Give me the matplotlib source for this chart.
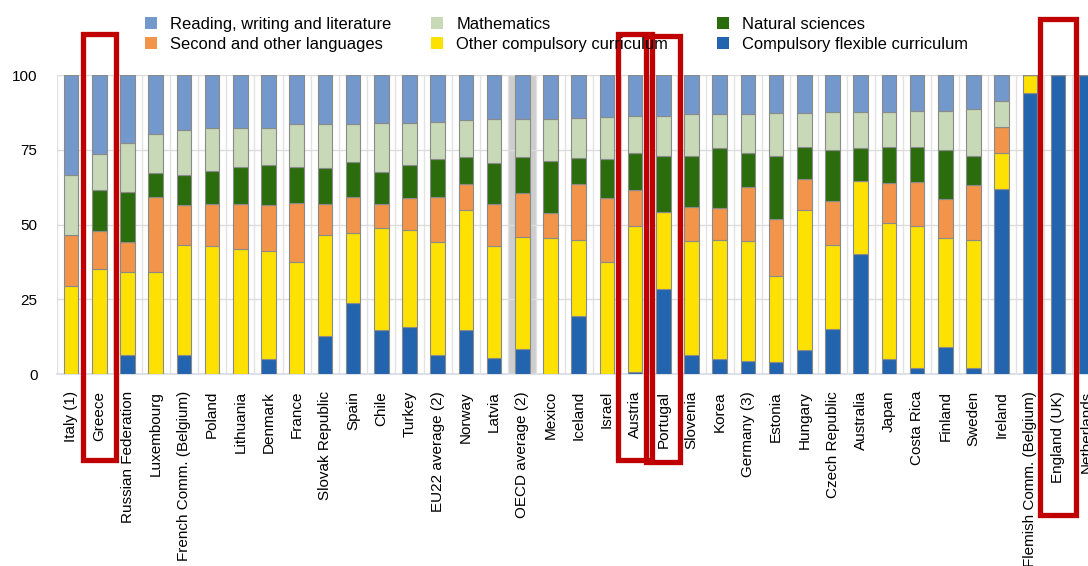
import numpy as np
import matplotlib.pyplot as plt
from matplotlib.patches import Rectangle, Patch
from matplotlib.transforms import blended_transform_factory

plt.rcParams['font.family'] = ['Liberation Sans', 'DejaVu Sans']

countries = [
    'Italy (1)', 'Greece', 'Russian Federation', 'Luxembourg',
    'French Comm. (Belgium)', 'Poland', 'Lithuania', 'Denmark', 'France',
    'Slovak Republic', 'Spain', 'Chile', 'Turkey', 'EU22 average (2)',
    'Norway', 'Latvia', 'OECD average (2)', 'Mexico', 'Iceland', 'Israel',
    'Austria', 'Portugal', 'Slovenia', 'Korea', 'Germany (3)', 'Estonia',
    'Hungary', 'Czech Republic', 'Australia', 'Japan', 'Costa Rica',
    'Finland', 'Sweden', 'Ireland', 'Flemish Comm. (Belgium)',
    'England (UK)', 'Netherlands',
]

# Share of instruction time (%) by subject, stacked bottom to top
flexible = [0, 0, 6.5, 0, 6.5, 0, 0, 5.1, 0, 12.8, 23.7, 14.8, 15.7, 6.5,
            14.8, 5.6, 8.4, 0, 19.6, 0, 0.8, 28.4, 6.5, 5.0, 4.5, 4.0, 8.1,
            15.0, 40.1, 5.1, 2.0, 9.2, 2.2, 61.9, 93.9, 100, 100]
other_compulsory = [29.5, 35.2, 27.8, 34.3, 36.7, 42.7, 41.8, 36.2, 37.6,
                    33.7, 23.4, 34.0, 32.5, 37.6, 40.1, 37.1, 37.6, 45.4,
                    25.3, 37.6, 48.9, 25.9, 38.0, 39.9, 40.0, 28.9, 46.8,
                    28.2, 24.5, 45.6, 47.7, 36.2, 42.7, 11.9, 6.1, 0, 0]
languages = [17.0, 12.7, 10.0, 25.1, 13.3, 14.2, 15.1, 15.2, 19.5, 10.3,
             12.3, 8.0, 10.6, 15.3, 8.6, 14.2, 14.7, 8.6, 18.7, 21.2, 11.9,
             0, 11.5, 10.6, 18.2, 19.1, 10.4, 14.8, 0, 13.1, 14.4, 13.2,
             18.4, 8.7, 0, 0, 0]
natural_sciences = [0, 13.7, 16.7, 7.7, 10.1, 11.1, 12.5, 13.4, 12.3, 12.2,
                    11.4, 10.7, 11.1, 12.4, 9.2, 13.6, 12.0, 17.4, 8.6, 13.0,
                    12.5, 18.8, 17.1, 20.0, 11.4, 21.1, 10.5, 16.9, 10.9,
                    12.0, 11.7, 16.3, 9.8, 0, 0, 0, 0]
mathematics = [20.1, 12.0, 16.4, 13.2, 15.0, 14.2, 13.0, 12.5, 14.1, 14.5,
               12.7, 16.4, 14.0, 12.6, 12.3, 14.8, 12.6, 13.8, 13.4, 14.1,
               12.2, 13.3, 13.8, 11.4, 12.8, 14.1, 11.4, 12.6, 12.0, 11.7,
               12.3, 13.2, 15.5, 8.9, 0, 0, 0]
reading = [33.4, 26.4, 22.6, 19.7, 18.4, 17.8, 17.6, 17.6, 16.5, 16.5,
           16.5, 16.1, 16.1, 15.6, 15.0, 14.7, 14.7, 14.8, 14.4, 14.1, 13.7,
           13.6, 13.1, 13.1, 13.1, 12.8, 12.8, 12.5, 12.5, 12.5, 11.9, 11.9,
           11.4, 8.6, 0, 0, 0]

series = [
    ('Compulsory flexible curriculum', flexible, '#2264AE'),
    ('Other compulsory curriculum', other_compulsory, '#FDE102'),
    ('Second and other languages', languages, '#F2954B'),
    ('Natural sciences', natural_sciences, '#2B6D0C'),
    ('Mathematics', mathematics, '#C7D9B7'),
    ('Reading, writing and literature', reading, '#7398CB'),
]

highlighted = ['Greece', 'Austria', 'Portugal', 'England (UK)']

W, H = 1088, 566
fig = plt.figure(figsize=(W / 100, H / 100), dpi=100)
ax = fig.add_axes([57 / W, (H - 374.3) / H, 37 * 28.2 / W, 299.3 / H])

x = np.arange(len(countries))

# grey band behind the OECD average
ax.axvspan(countries.index('OECD average (2)') - 0.5,
           countries.index('OECD average (2)') + 0.5,
           color='#cdcdcd', zorder=0, lw=0)

bottom = np.zeros(len(countries))
for name, vals, col in series:
    vals = np.array(vals, dtype=float)
    ax.bar(x, vals, width=0.52, bottom=bottom, color=col,
           edgecolor='#8a8a8a', linewidth=0.8, zorder=3)
    bottom += vals

ax.set_xlim(-0.5, len(countries) - 0.5)
ax.set_ylim(0, 100)
ax.set_yticks([0, 25, 50, 75, 100])
ax.set_xticks(x)
ax.set_xticklabels(countries, rotation=90, fontsize=11)
ax.tick_params(axis='x', length=0, pad=12)
ax.tick_params(axis='y', length=0, pad=14, labelsize=11)

# horizontal grid plus category dividers
ax.grid(axis='y', color='#dcdcdc', linewidth=1, zorder=0)
for b in np.arange(-0.5, len(countries), 1.0):
    ax.axvline(b, color='#e2e2e2', linewidth=1, zorder=0)
for s in ['top', 'right', 'left']:
    ax.spines[s].set_visible(False)
ax.spines['bottom'].set_color('#d5dbe8')
ax.spines['bottom'].set_linewidth(1.2)
ax.set_axisbelow(True)

# legend: three columns of two entries each
columns = [([5, 2], 138), ([4, 1], 424), ([3, 0], 710)]
for idx, left in columns:
    handles = [Patch(facecolor=series[i][2], edgecolor='none') for i in idx]
    labels = [series[i][0] for i in idx]
    fig.legend(handles, labels, loc='upper left',
               bbox_to_anchor=(left / W, 1 - 10 / H), frameon=False,
               fontsize=11.9, handlelength=0.75, handleheight=0.75,
               handletextpad=0.8, labelspacing=0.32, borderaxespad=0)

# red frames around selected countries
trans = blended_transform_factory(ax.transData, fig.transFigure)
frame_y = {'Greece': (34, 460), 'Austria': (34, 460),
           'Portugal': (36, 462), 'England (UK)': (19, 515)}
half = {'Greece': 0.59, 'Austria': 0.6, 'Portugal': 0.6, 'England (UK)': 0.64}
for c in highlighted:
    i = countries.index(c)
    top, bot = frame_y[c]
    ax.add_patch(Rectangle((i - half[c], (H - bot) / H), 2 * half[c],
                           (bot - top) / H, transform=trans, fill=False,
                           edgecolor='#C00000', linewidth=3.8,
                           clip_on=False, zorder=10))

fig.savefig('out.png', dpi=100)
